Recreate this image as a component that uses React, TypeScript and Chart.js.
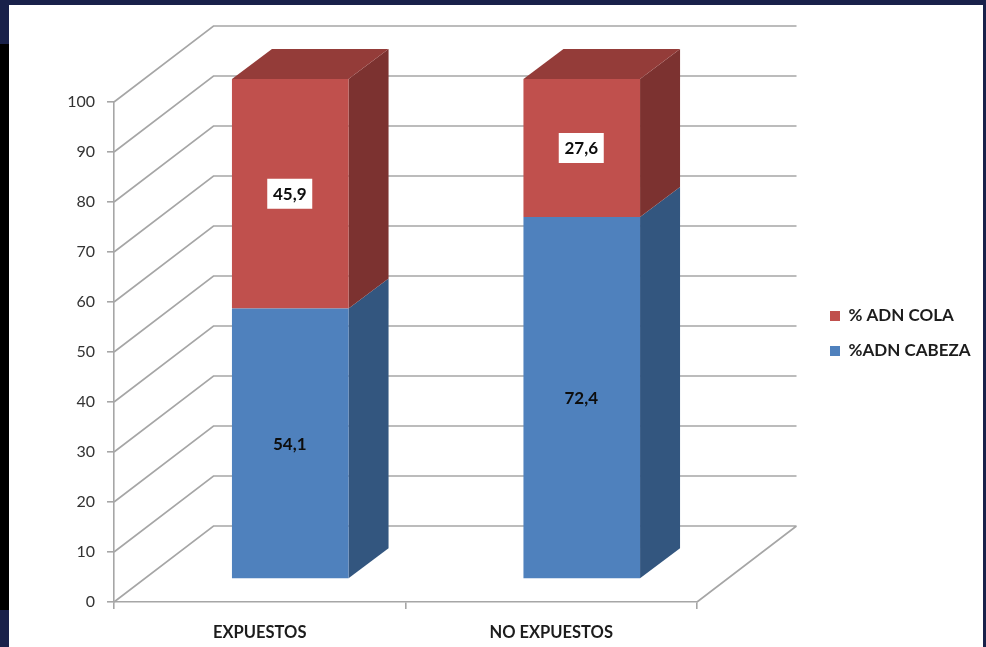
import React, { useEffect, useRef } from "react";
import { Chart, registerables } from "chart.js";

Chart.register(...registerables);

const categories = ["EXPUESTOS", "NO EXPUESTOS"];
const cabezaValues = [54.1, 72.4];
const colaValues = [45.9, 27.6];
const seriesNames = ["%ADN CABEZA", "% ADN COLA"];

const FONT = "Lato, 'Open Sans', sans-serif";
const NAVY = "#19214a";
const AXIS_GREY = "#a6a6a6";

// Wall depth of the box and the offset of the bars within it.
const WALL_DX = 99.5;
const WALL_DY = -76;
const BAR_DX = 30.5;
const BAR_DY = -23;
const BAR_DEPTH_X = 40;
const BAR_DEPTH_Y = -30;

const faceColors = [
  { front: "#4f81bd", side: "#33567f", top: "#3f6797" },
  { front: "#c0504d", side: "#7c3230", top: "#943c39" },
];

const fmt = (v: number) => v.toFixed(1).replace(".", ",");

const box3d = {
  id: "box3d",
  afterLayout(chart: any) {
    const legend = chart.legend;
    const w = legend.width;
    legend.left = 812;
    legend.right = 812 + w;
    legend.top = 289.5;
    legend.bottom = 400;
  },
  beforeDatasetsDraw(chart: any) {
    const { ctx, scales } = chart;
    const y = scales.y;
    const left = scales.x.left;
    const right = scales.x.right;
    ctx.save();
    ctx.strokeStyle = AXIS_GREY;
    ctx.lineWidth = 1.6;
    ctx.beginPath();
    y.ticks.forEach((t: any) => {
      const py = y.getPixelForValue(t.value);
      ctx.moveTo(left, py);
      ctx.lineTo(left + WALL_DX, py + WALL_DY);
      ctx.lineTo(right + WALL_DX, py + WALL_DY);
    });
    const base = y.getPixelForValue(0);
    ctx.moveTo(right, base);
    ctx.lineTo(right + WALL_DX, base + WALL_DY);
    ctx.stroke();
    ctx.restore();

    // Bars are drawn by the library, shifted into the depth of the box.
    ctx.save();
    ctx.translate(BAR_DX, BAR_DY);
    chart.data.datasets.forEach((_: any, di: number) => {
      const colors = faceColors[di];
      chart.getDatasetMeta(di).data.forEach((bar: any) => {
        const p = bar.getProps(["x", "y", "base", "width"], true);
        const l = p.x - p.width / 2;
        const r = p.x + p.width / 2;
        ctx.fillStyle = colors.side;
        ctx.beginPath();
        ctx.moveTo(r, p.base);
        ctx.lineTo(r + BAR_DEPTH_X, p.base + BAR_DEPTH_Y);
        ctx.lineTo(r + BAR_DEPTH_X, p.y + BAR_DEPTH_Y);
        ctx.lineTo(r, p.y);
        ctx.closePath();
        ctx.fill();
        if (di === chart.data.datasets.length - 1) {
          ctx.fillStyle = colors.top;
          ctx.beginPath();
          ctx.moveTo(l, p.y);
          ctx.lineTo(r, p.y);
          ctx.lineTo(r + BAR_DEPTH_X, p.y + BAR_DEPTH_Y);
          ctx.lineTo(l + BAR_DEPTH_X, p.y + BAR_DEPTH_Y);
          ctx.closePath();
          ctx.fill();
        }
      });
    });
  },
  afterDatasetsDraw(chart: any) {
    const { ctx } = chart;
    ctx.font = `bold 17px ${FONT}`;
    ctx.textAlign = "center";
    ctx.textBaseline = "middle";
    chart.data.datasets.forEach((ds: any, di: number) => {
      chart.getDatasetMeta(di).data.forEach((bar: any, i: number) => {
        const p = bar.getProps(["x", "y", "base"], true);
        const cy = (p.y + p.base) / 2;
        if (di === 1) {
          ctx.fillStyle = "#ffffff";
          ctx.fillRect(p.x - 23, cy - 15, 45, 30);
        }
        ctx.fillStyle = "#0d0d0d";
        ctx.fillText(fmt(ds.data[i]), p.x - 0.5, cy + 1);
      });
    });
    ctx.restore();
  },
};

export default function App() {
  const ref = useRef<HTMLCanvasElement>(null);

  useEffect(() => {
    document.body.style.margin = "0";
    const chart = new Chart(ref.current as HTMLCanvasElement, {
      type: "bar",
      data: {
        labels: categories,
        datasets: [
          { label: seriesNames[0], data: cabezaValues, backgroundColor: faceColors[0].front, borderWidth: 0 },
          { label: seriesNames[1], data: colaValues, backgroundColor: faceColors[1].front, borderWidth: 0 },
        ],
      },
      options: {
        responsive: false,
        animation: false,
        layout: { padding: { top: 102, right: 289, left: 0, bottom: 0 } },
        datasets: { bar: { categoryPercentage: 1, barPercentage: 0.4 } },
        plugins: {
          tooltip: { enabled: false },
          legend: {
            position: "chartArea" as any,
            align: "start",
            reverse: true,
            labels: {
              boxWidth: 10,
              boxHeight: 10,
              padding: 18,
              color: "#1c1c1c",
              font: { family: FONT, size: 17, weight: "bold" },
            },
          },
        },
        scales: {
          x: {
            stacked: true,
            afterFit: (s: any) => {
              s.height = 45;
            },
            border: { color: AXIS_GREY, width: 1.6 },
            grid: { drawOnChartArea: false, drawTicks: true, tickLength: 7, color: AXIS_GREY, lineWidth: 1.6 },
            ticks: {
              padding: 14,
              color: "#1c1c1c",
              font: { family: FONT, size: 16.5, weight: "bold" },
            },
          },
          y: {
            stacked: true,
            min: 0,
            max: 100,
            afterFit: (s: any) => {
              s.width = 114;
            },
            border: { color: AXIS_GREY, width: 1.6 },
            grid: { drawOnChartArea: false, drawTicks: true, tickLength: 7, color: AXIS_GREY, lineWidth: 1.6 },
            ticks: {
              stepSize: 10,
              padding: 12,
              color: "#333333",
              font: { family: FONT, size: 16 },
            },
          },
        },
      },
      plugins: [box3d],
    });
    return () => chart.destroy();
  }, []);

  return (
    <div style={{ position: "relative", width: 986, height: 647, background: NAVY, overflow: "hidden" }}>
      <div style={{ position: "absolute", left: 0, top: 44, width: 9, height: 566, background: "#000" }} />
      <div style={{ position: "absolute", left: 9, top: 5, width: 974, height: 642, background: "#fff" }} />
      <canvas ref={ref} width={986} height={647} style={{ position: "absolute", left: 0, top: 0, display: "block" }} />
    </div>
  );
}
